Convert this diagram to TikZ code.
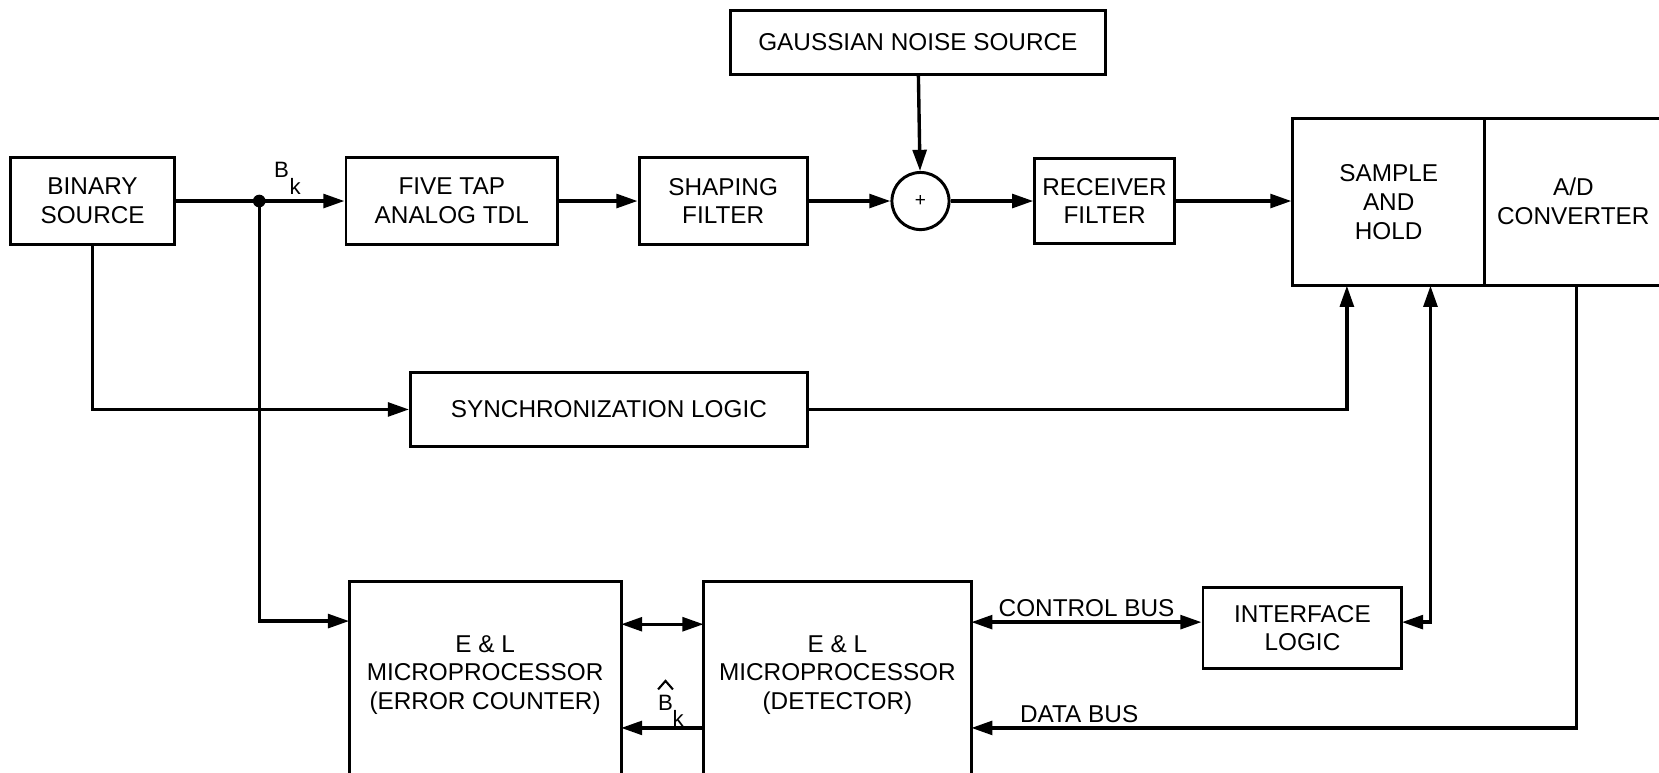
\documentclass[tikz,border=0pt]{standalone}
\usepackage{fontspec}
\setmainfont{Liberation Sans}
\usetikzlibrary{arrows.meta,calc}
\begin{document}
\begin{tikzpicture}[x=1pt,y=-1pt,
  blk/.style={draw,line width=2.8pt,align=center,inner sep=0pt,font=\fontsize{23}{27}\selectfont},
  txt/.style={align=center,inner sep=0pt,font=\fontsize{23}{27}\selectfont},
  sml/.style={inner sep=0pt,font=\fontsize{21}{21}\selectfont},
  ar/.style={-{Triangle[length=20pt,width=13pt]},line width=3.2pt},
  dar/.style={{Triangle[length=20pt,width=13pt]}-{Triangle[length=20pt,width=13pt]},line width=3.2pt}]
\useasboundingbox (0,0) rectangle (1568,730);
\clip (0,0) rectangle (1568,730);
% top row
\node[blk,minimum width=155pt,minimum height=82pt] (bin) at (87.5,190) {BINARY\\SOURCE};
\node[blk,minimum width=200pt,minimum height=82pt] (tdl) at (427,190) {FIVE TAP\\ANALOG TDL};
\node[blk,minimum width=159pt,minimum height=82pt] (shp) at (683.5,190) {SHAPING\\FILTER};
\node[blk,circle,minimum size=54pt,font=\fontsize{18}{18}\selectfont] (sum) at (870,190) {+};
\node[blk,minimum width=355pt,minimum height=60pt] (gns) at (867.5,40) {GAUSSIAN NOISE SOURCE};
\node[blk,minimum width=132pt,minimum height=80pt] (rcv) at (1044,190) {RECEIVER\\FILTER};
\node[blk,minimum width=181pt,minimum height=158pt] (sh) at (1312.5,191) {SAMPLE\\AND\\HOLD};
\node[blk,minimum width=297pt,minimum height=158pt] (ad) at (1551.5,191) {};
\node[txt] (adt) at (1487,190) {A/D\\CONVERTER};
% middle
\node[blk,minimum width=375pt,minimum height=70pt] (syn) at (575.5,387) {SYNCHRONIZATION LOGIC};
% bottom
\node[blk,minimum width=257pt,minimum height=250pt] (ec) at (458.5,675) {};
\node[txt] (ect) at (458.5,638) {E \& L\\MICROPROCESSOR\\(ERROR COUNTER)};
\node[blk,minimum width=253pt,minimum height=250pt] (det) at (791.5,675) {};
\node[txt] (dett) at (791.5,638) {E \& L\\MICROPROCESSOR\\(DETECTOR)};
\node[blk,minimum width=188pt,minimum height=77pt] (ifl) at (1231,593.5) {INTERFACE\\LOGIC};
% coordinates
\coordinate (j) at (245,190);
\coordinate (shs1) at (1273,270);
\coordinate (shs2) at (1352,270);
\coordinate (adb) at (1490,270);
\coordinate (ecin) at (330,587);
\coordinate (ecr1) at (587,590);
\coordinate (detl1) at (665,590);
\coordinate (detl2) at (665,688);
\coordinate (ecr2) at (587,688);
\coordinate (detr1) at (918,588);
\coordinate (detr2) at (918,688);
\coordinate (iflr) at (1325,588);
% connectors
\draw[ar] (bin) -- (tdl);
\fill (j) circle (6pt);
\node[sml] (bk) at (266,161) {B};
\node[sml] (bkk) at (279,176) {k};
\draw[ar] (tdl) -- (shp);
\draw[ar] (shp) -- (sum);
\draw[ar] (gns) -- (sum);
\draw[ar] (sum) -- (rcv);
\draw[ar] (rcv.east) -- (rcv.east -| sh.west);
\draw[ar] (bin.south) |- (syn.west);
\draw[ar] (syn.east) -| (shs1);
\draw[ar] (j) |- (ecin);
\draw[dar] (ecr1) -- (detl1);
\draw[ar] (detl2) -- (ecr2);
\node[sml] (bh) at (629,664) {B};
\node[sml] (bhk) at (641,679) {k};
\draw[line width=2pt] ($(bh.north)+(-7,-5)$) -- ($(bh.north)+(0,-13)$) -- ($(bh.north)+(7,-5)$);
\draw[dar] (detr1) -- (detr1 -| ifl.west);
\node[txt] (cb) at (1027,575) {CONTROL BUS};
\draw[dar] (iflr) -| (shs2);
\draw[ar] (adb) |- (detr2);
\node[txt] (db) at (1020,675) {DATA BUS};
\end{tikzpicture}
\end{document}
